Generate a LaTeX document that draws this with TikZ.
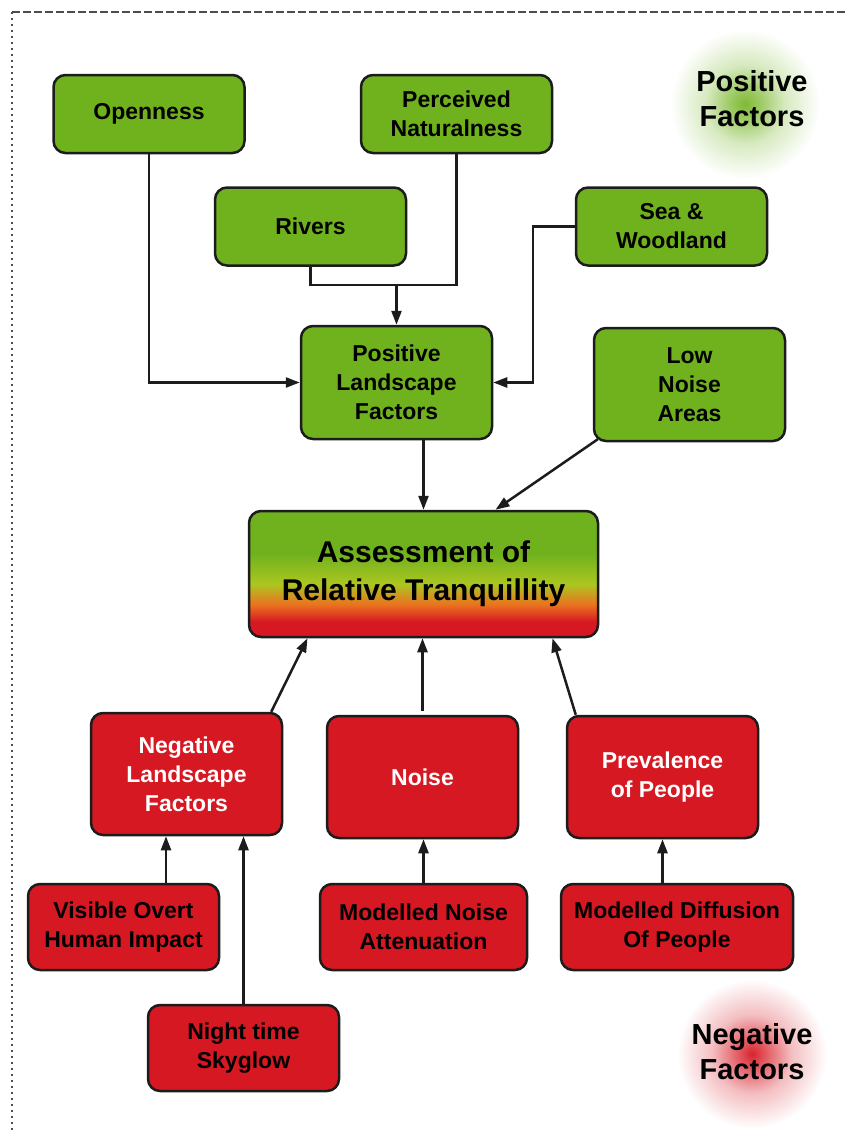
\documentclass[tikz,border=0pt]{standalone}
\usepackage{fontspec}
\setmainfont{Liberation Sans}
\usetikzlibrary{arrows.meta}

\definecolor{posgreen}{RGB}{112,178,30}
\definecolor{negred}{RGB}{214,24,34}
\definecolor{tyellow}{RGB}{172,198,32}
\definecolor{torange}{RGB}{234,116,32}
\definecolor{edgegray}{RGB}{28,28,28}

% tikz maps 25bp..75bp of a shading onto the path
\pgfdeclareverticalshading{tranq}{100bp}{color(0bp)=(negred); color(31bp)=(negred);
  color(38bp)=(torange); color(46bp)=(tyellow); color(58bp)=(posgreen); color(100bp)=(posgreen)}
\pgfdeclareradialshading{posglow}{\pgfpoint{0bp}{0bp}}{color(0bp)=(posgreen!90!white);
  color(4bp)=(posgreen!65!white); color(9bp)=(posgreen!28!white); color(17bp)=(white); color(50bp)=(white)}
\pgfdeclareradialshading{negglow}{\pgfpoint{0bp}{0bp}}{color(0bp)=(negred!95!white);
  color(4bp)=(negred!65!white); color(9bp)=(negred!28!white); color(17bp)=(white); color(50bp)=(white)}

\begin{document}
\begin{tikzpicture}[x=1pt,y=-1pt,
  box/.style={draw=edgegray, line width=2.5pt, rounded corners=12pt, align=center,
    inner sep=2pt, minimum width=191pt, font=\fontsize{23}{29}\selectfont\bfseries},
  posbox/.style={box, fill=posgreen},
  negbox/.style={box, fill=negred},
  conn/.style={line width=2.5pt, draw=edgegray},
  arrow/.style={conn, -{Triangle[length=14pt,width=10pt]}},
  corner/.style={align=center, font=\fontsize{29}{35}\selectfont\bfseries}]
  \useasboundingbox (0,0) rectangle (846,1133);
  % glows behind the corner labels
  \shade[shading=posglow] (745,104) circle (110);
  \shade[shading=negglow] (752,1054) circle (110);
  % page frame
  \draw[gray!60!black, line width=1.5pt, dash pattern=on 8pt off 3pt] (12,12) -- (846,12);
  \draw[gray!60!black, line width=2pt, dash pattern=on 2pt off 4pt] (12,12) -- (12,1133);

  % positive factors
  \node[posbox, minimum height=78pt] (open) at (149,114) {Openness};
  \node[posbox, minimum height=78pt] (nat) at (456.5,114) {Perceived\\Naturalness};
  \node[posbox, minimum height=78pt] (rivers) at (310.5,226.5) {Rivers};
  \node[posbox, minimum height=78pt] (sea) at (671.5,226.5) {Sea \&\\Woodland};
  \node[posbox, minimum height=113pt] (plf) at (396.5,382.5) {Positive\\Landscape\\Factors};
  \node[posbox, minimum height=113pt] (low) at (689.5,384.5) {Low\\Noise\\Areas};

  % centre
  \node[box, shading=tranq, minimum width=349pt, minimum height=126pt,
    font=\fontsize{30}{38}\selectfont\bfseries] (assess) at (423.5,574)
    {Assessment of\\Relative Tranquillity};

  % negative factors
  \node[negbox, text=white, minimum height=122pt] (nlf) at (186.5,774) {Negative\\Landscape\\Factors};
  \node[negbox, text=white, minimum height=122pt] (noise) at (422.5,777) {Noise};
  \node[negbox, text=white, minimum height=122pt] (prev) at (662.5,777) {Prevalence\\of People};
  \node[negbox, minimum height=86pt] (vis) at (123.5,927) {Visible Overt\\Human Impact};
  \node[negbox, minimum height=86pt, minimum width=207pt] (atten) at (423.5,927) {Modelled Noise\\Attenuation};
  \node[negbox, minimum height=86pt, minimum width=232pt] (diff) at (677,927) {Modelled Diffusion\\Of People};
  \node[negbox, minimum height=86pt] (sky) at (243.5,1048) {Night time\\Skyglow};

  % corner labels
  \node[corner] (poslab) at (752,99) {Positive\\Factors};
  \node[corner] (neglab) at (752,1052) {Negative\\Factors};

  % connectors
  \coordinate (join) at (plf.north |- 0,285);
  \draw[arrow] (open.south) |- (plf.west);
  \draw[conn] (rivers.south) |- (join) -| (nat.south);
  \draw[arrow] (join) -- (plf.north);
  \draw[arrow] (sea.west) -- ++(-42,0) |- (plf.east);
  \draw[arrow] (assess.north |- plf.south) -- (assess.north);
  \draw[arrow] ([xshift=5pt,yshift=3pt]low.south west) -- ([xshift=72pt]assess.north);
  \draw[arrow] ([xshift=-12pt]nlf.north east) -- ([xshift=-116pt]assess.south);
  \draw[arrow] ([yshift=4pt]noise.north) -- (noise.north |- assess.south);
  \draw[arrow] ([xshift=10pt]prev.north west) -- ([xshift=129pt]assess.south);
  \draw[arrow] ([xshift=42.5pt]vis.north) -- ([xshift=42.5pt]vis.north |- nlf.south);
  \draw[arrow] (sky.north) -- (sky.north |- nlf.south);
  \draw[arrow] (atten.north) -- (atten.north |- noise.south);
  \draw[arrow] (prev.south |- diff.north) -- (prev.south);
\end{tikzpicture}
\end{document}
